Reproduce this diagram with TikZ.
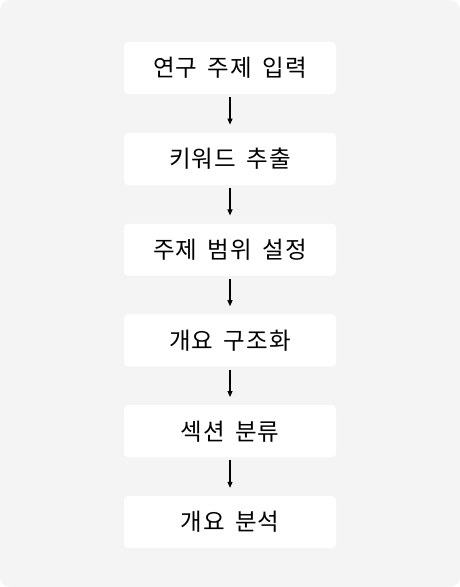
\documentclass[tikz,border=0pt]{standalone}
\usepackage{fontspec}
\setmainfont[LetterSpace=5, WordSpace=1.6]{Noto Sans CJK KR}
\usepackage{tikz}
\usetikzlibrary{arrows.meta}
\usetikzlibrary{positioning}
\definecolor{panelgray}{HTML}{F4F4F4}

\tikzset{
  stepbox/.style={fill=white, rounded corners=4pt, minimum width=212pt, minimum height=52pt, font=\fontsize{23.5}{26}\selectfont, inner sep=0pt},
  flow/.style={-{Triangle[length=6pt,width=5pt]}, line width=1.1pt, shorten <=3pt, shorten >=8pt}
}

\begin{document}
\begin{tikzpicture}[x=1pt, y=-1pt, node distance=38.4pt]
      \fill[panelgray, rounded corners=10pt] (0, 0) rectangle (460, 587);
      \useasboundingbox (0, 0) rectangle (460, 587);

      \node [stepbox] (input) at (230, 68) {연구 주제 입력};
      \node [stepbox, below=of input] (keyword) {키워드 추출};
      \node [stepbox, below=of keyword] (scope) {주제 범위 설정};
      \node [stepbox, below=of scope] (struct) {개요 구조화};
      \node [stepbox, below=of struct] (section) {섹션 분류};
      \node [stepbox, below=of section] (analysis) {개요 분석};

      \draw [flow] (input) -- (keyword);
      \draw [flow] (keyword) -- (scope);
      \draw [flow] (scope) -- (struct);
      \draw [flow] (struct) -- (section);
      \draw [flow] (section) -- (analysis);
    \end{tikzpicture}
\end{document}
